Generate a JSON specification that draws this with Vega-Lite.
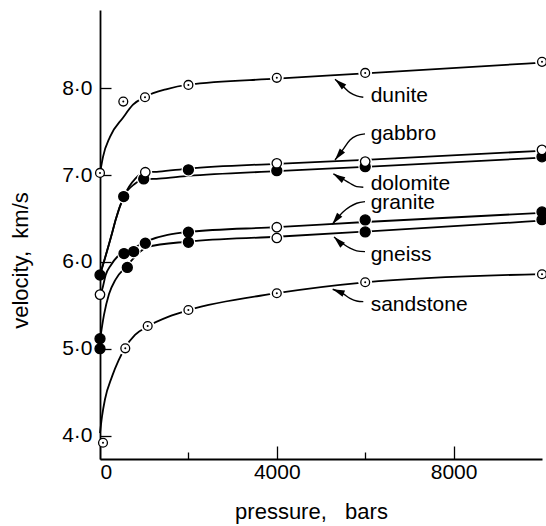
{
  "$schema": "https://vega.github.io/schema/vega-lite/v6.json",
  "width": 442,
  "height": 449,
  "autosize": {"type": "none"},
  "padding": {"left": 100, "top": 10, "right": 4, "bottom": 67},
  "background": "white",
  "config": {
    "view": {"stroke": null},
    "font": "Liberation Sans",
    "axis": {
      "grid": false,
      "domainColor": "black",
      "domainWidth": 1.8,
      "tickColor": "black",
      "tickWidth": 1.3,
      "labelColor": "black",
      "titleColor": "black",
      "labelFont": "Liberation Sans",
      "titleFont": "Liberation Sans",
      "labelFontSize": 21,
      "titleFontSize": 22,
      "titleFontWeight": "normal"
    }
  },
  "datasets": {
    "curves": [
      {"rock": "dunite", "p": 0, "v": 7.02}, {"rock": "dunite", "p": 68, "v": 7.21}, {"rock": "dunite", "p": 226, "v": 7.44}, {"rock": "dunite", "p": 520, "v": 7.66}, {"rock": "dunite", "p": 747, "v": 7.81}, {"rock": "dunite", "p": 1018, "v": 7.9}, {"rock": "dunite", "p": 1516, "v": 7.99}, {"rock": "dunite", "p": 2000, "v": 8.04}, {"rock": "dunite", "p": 4000, "v": 8.11}, {"rock": "dunite", "p": 6000, "v": 8.17}, {"rock": "dunite", "p": 10000, "v": 8.295},
      {"rock": "sandstone", "p": 0, "v": 4.03}, {"rock": "sandstone", "p": 45, "v": 4.22}, {"rock": "sandstone", "p": 113, "v": 4.42}, {"rock": "sandstone", "p": 271, "v": 4.68}, {"rock": "sandstone", "p": 423, "v": 4.87}, {"rock": "sandstone", "p": 566, "v": 5.01}, {"rock": "sandstone", "p": 792, "v": 5.16}, {"rock": "sandstone", "p": 1086, "v": 5.26}, {"rock": "sandstone", "p": 1554, "v": 5.37}, {"rock": "sandstone", "p": 2000, "v": 5.445}, {"rock": "sandstone", "p": 4000, "v": 5.64}, {"rock": "sandstone", "p": 6000, "v": 5.765}, {"rock": "sandstone", "p": 10000, "v": 5.86},
      {"rock": "gabbro", "p": 0, "v": 5.85}, {"rock": "gabbro", "p": 283, "v": 6.35}, {"rock": "gabbro", "p": 351, "v": 6.48}, {"rock": "gabbro", "p": 536, "v": 6.75}, {"rock": "gabbro", "p": 800, "v": 6.96}, {"rock": "gabbro", "p": 1025, "v": 7.03}, {"rock": "gabbro", "p": 1334, "v": 7.04}, {"rock": "gabbro", "p": 2000, "v": 7.075}, {"rock": "gabbro", "p": 4000, "v": 7.13}, {"rock": "gabbro", "p": 6000, "v": 7.175}, {"rock": "gabbro", "p": 10000, "v": 7.28},
      {"rock": "dolomite", "p": 0, "v": 5.85}, {"rock": "dolomite", "p": 283, "v": 6.35}, {"rock": "dolomite", "p": 351, "v": 6.48}, {"rock": "dolomite", "p": 536, "v": 6.75}, {"rock": "dolomite", "p": 790, "v": 6.9}, {"rock": "dolomite", "p": 989, "v": 6.95}, {"rock": "dolomite", "p": 1334, "v": 6.96}, {"rock": "dolomite", "p": 2000, "v": 6.99}, {"rock": "dolomite", "p": 4000, "v": 7.045}, {"rock": "dolomite", "p": 6000, "v": 7.095}, {"rock": "dolomite", "p": 10000, "v": 7.2},
      {"rock": "granite", "p": 0, "v": 5.62}, {"rock": "granite", "p": 52, "v": 5.69}, {"rock": "granite", "p": 129, "v": 5.85}, {"rock": "granite", "p": 242, "v": 5.96}, {"rock": "granite", "p": 392, "v": 6.06}, {"rock": "granite", "p": 543, "v": 6.11}, {"rock": "granite", "p": 800, "v": 6.17}, {"rock": "granite", "p": 1060, "v": 6.24}, {"rock": "granite", "p": 2000, "v": 6.345}, {"rock": "granite", "p": 4000, "v": 6.4}, {"rock": "granite", "p": 6000, "v": 6.46}, {"rock": "granite", "p": 10000, "v": 6.565},
      {"rock": "gneiss", "p": 0, "v": 5.1}, {"rock": "gneiss", "p": 90, "v": 5.39}, {"rock": "gneiss", "p": 204, "v": 5.63}, {"rock": "gneiss", "p": 355, "v": 5.8}, {"rock": "gneiss", "p": 618, "v": 5.96}, {"rock": "gneiss", "p": 850, "v": 6.09}, {"rock": "gneiss", "p": 1063, "v": 6.17}, {"rock": "gneiss", "p": 2000, "v": 6.235}, {"rock": "gneiss", "p": 4000, "v": 6.29}, {"rock": "gneiss", "p": 6000, "v": 6.35}, {"rock": "gneiss", "p": 10000, "v": 6.475}
    ],
    "markers": [
      {"rock": "dolomite", "kind": "filled", "p": 0, "v": 5.85}, {"rock": "dolomite", "kind": "filled", "p": 536, "v": 6.752}, {"rock": "dolomite", "kind": "filled", "p": 989, "v": 6.956}, {"rock": "gabbro", "kind": "filled", "p": 2000, "v": 7.06}, {"rock": "dolomite", "kind": "filled", "p": 4000, "v": 7.051}, {"rock": "dolomite", "kind": "filled", "p": 6000, "v": 7.097}, {"rock": "dolomite", "kind": "filled", "p": 10000, "v": 7.21},
      {"rock": "gneiss", "kind": "filled", "p": 0, "v": 5.117}, {"rock": "gneiss", "kind": "filled", "p": 0, "v": 5.002}, {"rock": "granite", "kind": "filled", "p": 543, "v": 6.096}, {"rock": "granite", "kind": "filled", "p": 762, "v": 6.119}, {"rock": "granite", "kind": "filled", "p": 1025, "v": 6.215}, {"rock": "gneiss", "kind": "filled", "p": 618, "v": 5.937}, {"rock": "granite", "kind": "filled", "p": 2000, "v": 6.342}, {"rock": "gneiss", "kind": "filled", "p": 2000, "v": 6.227}, {"rock": "granite", "kind": "filled", "p": 6000, "v": 6.484}, {"rock": "gneiss", "kind": "filled", "p": 6000, "v": 6.346}, {"rock": "granite", "kind": "filled", "p": 10000, "v": 6.576}, {"rock": "gneiss", "kind": "filled", "p": 10000, "v": 6.487},
      {"rock": "gabbro", "kind": "open", "p": 1025, "v": 7.033}, {"rock": "gabbro", "kind": "open", "p": 4000, "v": 7.136}, {"rock": "gabbro", "kind": "open", "p": 6000, "v": 7.155}, {"rock": "gabbro", "kind": "open", "p": 10000, "v": 7.29}, {"rock": "granite", "kind": "open", "p": 0, "v": 5.624}, {"rock": "granite", "kind": "open", "p": 4000, "v": 6.4}, {"rock": "gneiss", "kind": "open", "p": 4000, "v": 6.276},
      {"rock": "dunite", "kind": "dotted", "p": 0, "v": 7.025}, {"rock": "dunite", "kind": "dotted", "p": 527, "v": 7.846}, {"rock": "dunite", "kind": "dotted", "p": 1018, "v": 7.896}, {"rock": "dunite", "kind": "dotted", "p": 2000, "v": 8.038}, {"rock": "dunite", "kind": "dotted", "p": 4000, "v": 8.119}, {"rock": "dunite", "kind": "dotted", "p": 6000, "v": 8.176}, {"rock": "dunite", "kind": "dotted", "p": 10000, "v": 8.303},
      {"rock": "sandstone", "kind": "dotted", "p": 68, "v": 3.919}, {"rock": "sandstone", "kind": "dotted", "p": 572, "v": 5.006}, {"rock": "sandstone", "kind": "dotted", "p": 1079, "v": 5.263}, {"rock": "sandstone", "kind": "dotted", "p": 2000, "v": 5.447}, {"rock": "sandstone", "kind": "dotted", "p": 4000, "v": 5.64}, {"rock": "sandstone", "kind": "dotted", "p": 6000, "v": 5.766}, {"rock": "sandstone", "kind": "dotted", "p": 10000, "v": 5.858}
    ],
    "arrows": [
      {"rock": "dunite", "p": 5957, "v": 7.896}, {"rock": "dunite", "p": 5808, "v": 7.911}, {"rock": "dunite", "p": 5656, "v": 7.949}, {"rock": "dunite", "p": 5504, "v": 8.018}, {"rock": "dunite", "p": 5317, "v": 8.104},
      {"rock": "gabbro", "p": 5995, "v": 7.474}, {"rock": "gabbro", "p": 5808, "v": 7.454}, {"rock": "gabbro", "p": 5656, "v": 7.405}, {"rock": "gabbro", "p": 5504, "v": 7.298}, {"rock": "gabbro", "p": 5317, "v": 7.174},
      {"rock": "dolomite", "p": 5957, "v": 6.86}, {"rock": "dolomite", "p": 5808, "v": 6.867}, {"rock": "dolomite", "p": 5656, "v": 6.906}, {"rock": "dolomite", "p": 5504, "v": 6.952}, {"rock": "dolomite", "p": 5278, "v": 7.013},
      {"rock": "granite", "p": 5995, "v": 6.694}, {"rock": "granite", "p": 5808, "v": 6.676}, {"rock": "granite", "p": 5656, "v": 6.637}, {"rock": "granite", "p": 5504, "v": 6.579}, {"rock": "granite", "p": 5256, "v": 6.434},
      {"rock": "gneiss", "p": 5995, "v": 6.119}, {"rock": "gneiss", "p": 5808, "v": 6.127}, {"rock": "gneiss", "p": 5656, "v": 6.158}, {"rock": "gneiss", "p": 5504, "v": 6.207}, {"rock": "gneiss", "p": 5294, "v": 6.288},
      {"rock": "sandstone", "p": 5957, "v": 5.543}, {"rock": "sandstone", "p": 5808, "v": 5.551}, {"rock": "sandstone", "p": 5656, "v": 5.582}, {"rock": "sandstone", "p": 5504, "v": 5.632}, {"rock": "sandstone", "p": 5264, "v": 5.686}
    ],
    "heads": [
      {"rock": "dunite", "p": 5317, "v": 8.104, "dir": 311},
      {"rock": "gabbro", "p": 5317, "v": 7.174, "dir": 218},
      {"rock": "dolomite", "p": 5278, "v": 7.013, "dir": 301},
      {"rock": "granite", "p": 5256, "v": 6.434, "dir": 218},
      {"rock": "gneiss", "p": 5294, "v": 6.288, "dir": 314},
      {"rock": "sandstone", "p": 5264, "v": 5.686, "dir": 292}
    ],
    "labels": [
      {"rock": "dunite", "p": 6124, "v": 7.846},
      {"rock": "gabbro", "p": 6124, "v": 7.405},
      {"rock": "dolomite", "p": 6124, "v": 6.83},
      {"rock": "granite", "p": 6124, "v": 6.61},
      {"rock": "gneiss", "p": 6124, "v": 6.015},
      {"rock": "sandstone", "p": 6124, "v": 5.439}
    ]
  },
  "encoding": {
    "x": {
      "field": "p", "type": "quantitative",
      "scale": {"domain": [0, 10000], "nice": false, "zero": false},
      "axis": {
        "title": "pressure,\u00a0\u00a0\u00a0bars",
        "values": [0, 2000, 4000, 6000, 8000],
        "format": "d",
        "labelExpr": "datum.value % 4000 === 0 ? datum.label : ''",
        "tickSize": {"condition": {"test": "datum.value % 4000 === 0", "value": -13}, "value": -7},
        "labelPadding": 15,
        "labelBaseline": "top",
        "titleX": 211,
        "titleY": 59,
        "titleBaseline": "alphabetic",
        "titleAlign": "center"
      }
    },
    "y": {
      "field": "v", "type": "quantitative",
      "scale": {"domain": [3.732, 8.9], "nice": false, "zero": false},
      "axis": {
        "title": "velocity,\u00a0\u00a0km/s",
        "values": [4, 5, 6, 7, 8],
        "format": ".1f",
        "labelExpr": "replace(datum.label, '.', '·')",
        "tickSize": -11,
        "labelPadding": 19,
        "titleX": -80,
        "titleY": 250,
        "titleAngle": -90,
        "titleBaseline": "middle",
        "titleAlign": "center"
      }
    }
  },
  "layer": [
    {
      "data": {"name": "curves"},
      "mark": {"type": "line", "color": "black", "strokeWidth": 1.8, "interpolate": "monotone"},
      "encoding": {"detail": {"field": "rock"}}
    },
    {
      "data": {"name": "arrows"},
      "mark": {"type": "line", "color": "black", "strokeWidth": 1.4, "interpolate": "monotone"},
      "encoding": {"detail": {"field": "rock"}}
    },
    {
      "data": {"name": "heads"},
      "mark": {"type": "point", "shape": "M0,0L-0.28,1L0.28,1Z", "filled": true, "color": "black", "opacity": 1, "size": 576},
      "encoding": {"angle": {"field": "dir", "type": "quantitative", "scale": null}}
    },
    {
      "data": {"name": "markers"},
      "transform": [{"filter": "datum.p > 100"}],
      "mark": {"type": "circle", "color": "white", "opacity": 1, "size": 190}
    },
    {
      "data": {"name": "markers"},
      "mark": {"type": "point", "shape": "circle", "stroke": "black", "strokeWidth": 1.3, "opacity": 1, "filled": false},
      "encoding": {
        "fill": {"field": "kind", "type": "nominal", "scale": {"domain": ["filled", "open", "dotted"], "range": ["black", "white", "white"]}, "legend": null},
        "size": {"field": "kind", "type": "nominal", "scale": {"domain": ["filled", "open", "dotted"], "range": [100, 78, 62]}, "legend": null}
      }
    },
    {
      "data": {"name": "markers"},
      "transform": [{"filter": "datum.kind === 'dotted'"}],
      "mark": {"type": "circle", "color": "black", "opacity": 1, "size": 4}
    },
    {
      "data": {"name": "labels"},
      "mark": {"type": "text", "align": "left", "baseline": "alphabetic", "fontSize": 21, "font": "Liberation Sans", "color": "black"},
      "encoding": {"text": {"field": "rock"}}
    }
  ]
}
